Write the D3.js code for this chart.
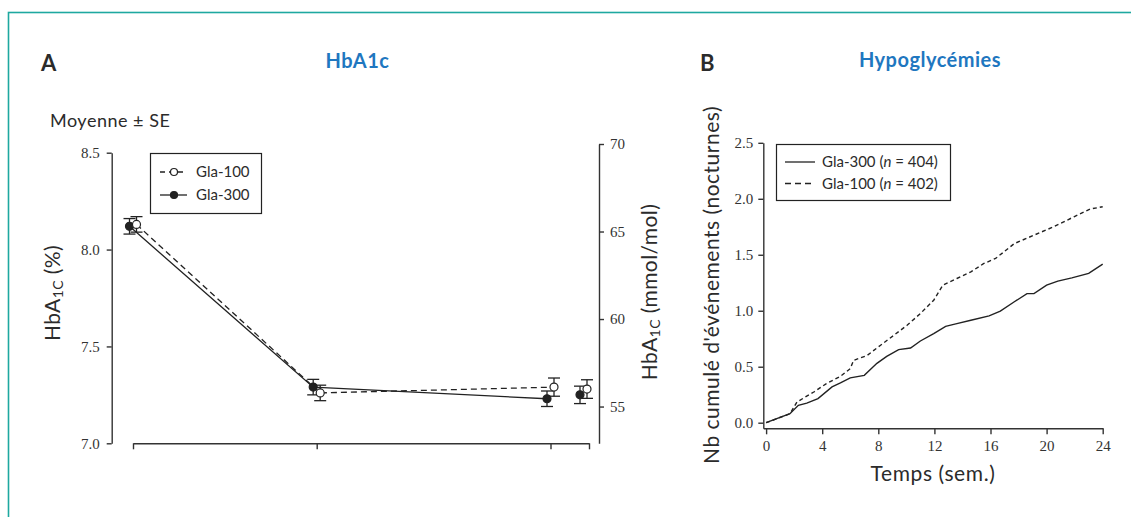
<!DOCTYPE html>
<html>
<head>
<meta charset="utf-8">
<script src="https://cdn.jsdelivr.net/npm/d3@7"></script>
<style>
  body { margin: 0; background: #fff; }
  .lab { font-family: Lato, "Open Sans", sans-serif; fill: #2b2b2b; }
  .tick text { font-family: "Liberation Serif", serif; font-size: 15px; fill: #333; }
  .axis path, .axis line { stroke: #333; stroke-width: 1.4; }
</style>
</head>
<body>
<div id="chart"></div>
<script>
// Panel A data: HbA1c (%) by visit
var visits = ["S0", "S12", "S24", "LOCF"];
var gla300Mean = [8.12, 7.29, 7.23, 7.25];
var gla300Se = [0.04, 0.04, 0.04, 0.045];
var gla100Mean = [8.13, 7.26, 7.29, 7.28];
var gla100Se = [0.04, 0.04, 0.047, 0.048];
var pctTicks = [7.0, 7.5, 8.0, 8.5];
var mmolTicks = [55, 60, 65, 70];

// Panel B data: cumulative nocturnal hypoglycaemia events
var weekTicks = [0, 4, 8, 12, 16, 20, 24];
var eventTicks = [0, 0.5, 1.0, 1.5, 2.0, 2.5];
var gla300Weeks = [0, 1.7, 2.3, 2.9, 3.7, 4.7, 5.3, 6.0, 7.0, 7.9, 8.6, 9.45, 10.3, 11.0, 11.95, 12.8, 13.6, 14.6, 15.9, 16.7, 17.7, 18.6, 19.1, 20.0, 20.8, 21.8, 23.0, 24];
var gla300Events = [0, 0.08, 0.155, 0.175, 0.215, 0.32, 0.355, 0.40, 0.423, 0.53, 0.593, 0.653, 0.667, 0.73, 0.796, 0.861, 0.885, 0.915, 0.954, 0.996, 1.08, 1.153, 1.153, 1.228, 1.264, 1.293, 1.333, 1.416];
var gla100Weeks = [0, 1.7, 2.2, 3.4, 4.3, 5.3, 6.0, 6.24, 7.2, 8.14, 9.1, 10.05, 11.0, 11.95, 12.6, 13.6, 14.6, 15.5, 16.36, 17.7, 19.1, 20.5, 21.95, 23.1, 24];
var gla100Events = [0, 0.08, 0.185, 0.274, 0.349, 0.414, 0.483, 0.557, 0.60, 0.69, 0.78, 0.87, 0.975, 1.094, 1.228, 1.288, 1.347, 1.42, 1.467, 1.60, 1.675, 1.75, 1.839, 1.908, 1.929];

var width = 1131, height = 517;
var blue = "#1f77c0", teal = "#1ea8a0", ink = "#222";

var svg = d3.select("#chart").append("svg")
  .attr("width", width)
  .attr("height", height);

// teal frame
svg.append("rect")
  .attr("x", 8.5).attr("y", 12.5)
  .attr("width", 1200).attr("height", 600)
  .attr("fill", "none").attr("stroke", teal).attr("stroke-width", 1.6);

// ---------- Panel A ----------
var xA = d3.scaleOrdinal()
  .domain(visits.concat(["fin"]))
  .range([133, 316.7, 550.5, 583.5, 589]);
var yPct = d3.scaleLinear().domain([7.0, 8.5]).range([443.3, 152.7]);
var yMmol = d3.scaleLinear().domain([52.9, 70]).range([443.3, 144]);

svg.append("text").attr("class", "lab")
  .attr("x", 41).attr("y", 71)
  .attr("font-size", 22).attr("font-weight", "bold").attr("fill", "#111")
  .text("A");
svg.append("text").attr("class", "lab")
  .attr("x", 357.5).attr("y", 68)
  .attr("text-anchor", "middle")
  .attr("font-size", 20).attr("font-weight", "bold")
  .attr("letter-spacing", 0.5)
  .style("fill", blue)
  .text("HbA1c");
svg.append("text").attr("class", "lab")
  .attr("x", 50).attr("y", 127)
  .attr("font-size", 18).attr("letter-spacing", 0.5)
  .text("Moyenne ± SE");

svg.append("g").attr("class", "axis")
  .attr("transform", "translate(111.7,0)")
  .call(d3.axisLeft(yPct).tickValues(pctTicks).tickFormat(d3.format(".1f"))
    .tickSize(5).tickSizeOuter(0).tickPadding(7));

svg.append("g").attr("class", "axis")
  .attr("transform", "translate(599,0)")
  .call(d3.axisRight(yMmol).tickValues(mmolTicks)
    .tickSize(5).tickSizeOuter(0).tickPadding(6));

svg.append("g").attr("class", "axis")
  .attr("transform", "translate(0,443.3)")
  .call(d3.axisBottom(xA).tickValues(["S0", "S12", "S24", "fin"])
    .tickFormat("").tickSize(6).tickSizeOuter(0));

// y labels with subscript
function hbaLabel(x, y, rest) {
  var t = svg.append("text").attr("class", "lab")
    .attr("transform", "translate(" + x + "," + y + ") rotate(-90)")
    .attr("text-anchor", "middle")
    .attr("font-size", 21).attr("letter-spacing", 0.4);
  t.append("tspan").text("HbA");
  t.append("tspan").attr("font-size", 14).attr("baseline-shift", "-22%").text("1C");
  t.append("tspan").text(rest);
}
hbaLabel(60, 293, " (%)");
hbaLabel(657, 292, " (mmol/mol)");

var seriesA = [
  { name: "Gla-300", mean: gla300Mean, se: gla300Se, dx: -3.5, filled: true, dash: null },
  { name: "Gla-100", mean: gla100Mean, se: gla100Se, dx: 3.5, filled: false, dash: "6,4" }
];

var lineA = d3.line()
  .x(function (d) { return xA(d.visit) + d.dx; })
  .y(function (d) { return yPct(d.v); });

seriesA.forEach(function (s) {
  var pts = visits.map(function (v, i) {
    return { visit: v, v: s.mean[i], se: s.se[i], dx: s.dx };
  });
  svg.append("path")
    .datum(pts.slice(0, 3))
    .attr("d", lineA)
    .attr("fill", "none")
    .attr("stroke", ink)
    .attr("stroke-width", 1.3)
    .attr("stroke-dasharray", s.dash);

  var g = svg.append("g").selectAll("g").data(pts).join("g");
  g.append("line")
    .attr("x1", function (d) { return xA(d.visit) + d.dx; })
    .attr("x2", function (d) { return xA(d.visit) + d.dx; })
    .attr("y1", function (d) { return yPct(d.v - d.se); })
    .attr("y2", function (d) { return yPct(d.v + d.se); })
    .attr("stroke", ink).attr("stroke-width", 1.3);
  [-1, 1].forEach(function (sgn) {
    g.append("line")
      .attr("x1", function (d) { return xA(d.visit) + d.dx - 6; })
      .attr("x2", function (d) { return xA(d.visit) + d.dx + 6; })
      .attr("y1", function (d) { return yPct(d.v + sgn * d.se); })
      .attr("y2", function (d) { return yPct(d.v + sgn * d.se); })
      .attr("stroke", ink).attr("stroke-width", 1.3);
  });
  g.append("circle")
    .attr("cx", function (d) { return xA(d.visit) + d.dx; })
    .attr("cy", function (d) { return yPct(d.v); })
    .attr("r", 4)
    .attr("fill", s.filled ? ink : "#fff")
    .attr("stroke", ink).attr("stroke-width", 1.2);
});

// legend A
svg.append("rect")
  .attr("x", 150.5).attr("y", 153.5).attr("width", 111).attr("height", 60)
  .attr("fill", "#fff").attr("stroke", ink).attr("stroke-width", 1.2);
[{ s: seriesA[1], y: 172 }, { s: seriesA[0], y: 195 }].forEach(function (e) {
  svg.append("line")
    .attr("x1", 160).attr("x2", 187).attr("y1", e.y).attr("y2", e.y)
    .attr("stroke", ink).attr("stroke-width", 1.3)
    .attr("stroke-dasharray", e.s.dash ? "5,4" : null);
  svg.append("circle").attr("cx", 174).attr("cy", e.y).attr("r", 3.5)
    .attr("fill", e.s.filled ? ink : "#fff").attr("stroke", ink).attr("stroke-width", 1.2);
  svg.append("text").attr("class", "lab")
    .attr("x", 196).attr("y", e.y + 5).attr("font-size", 15)
    .text(e.s.name);
});

// ---------- Panel B ----------
var xB = d3.scaleLinear().domain([-0.2, 24]).range([763.3, 1102.7]);
var yB = d3.scaleLinear().domain([-0.05, 2.5]).range([428.3, 142.8]);

svg.append("text").attr("class", "lab")
  .attr("x", 700).attr("y", 71)
  .attr("font-size", 22).attr("font-weight", "bold").attr("fill", "#111")
  .text("B");
svg.append("text").attr("class", "lab")
  .attr("x", 930).attr("y", 67)
  .attr("text-anchor", "middle")
  .attr("font-size", 20).attr("font-weight", "bold")
  .attr("letter-spacing", 0.5)
  .style("fill", blue)
  .text("Hypoglycémies");

svg.append("g").attr("class", "axis")
  .attr("transform", "translate(763.3,0)")
  .call(d3.axisLeft(yB).tickValues(eventTicks).tickFormat(d3.format(".1f"))
    .tickSize(5).tickSizeOuter(0).tickPadding(5));

svg.append("g").attr("class", "axis")
  .attr("transform", "translate(0,428.3)")
  .call(d3.axisBottom(xB).tickValues(weekTicks)
    .tickSize(6).tickSizeOuter(0).tickPadding(6));

svg.append("text").attr("class", "lab")
  .attr("x", 933).attr("y", 481)
  .attr("text-anchor", "middle").attr("font-size", 21)
  .attr("letter-spacing", 0.6)
  .text("Temps (sem.)");
svg.append("text").attr("class", "lab")
  .attr("transform", "translate(719,285) rotate(-90)")
  .attr("text-anchor", "middle").attr("font-size", 21)
  .attr("letter-spacing", 0.5)
  .text("Nb cumulé d'événements (nocturnes)");

var lineB = d3.line()
  .x(function (d) { return xB(d[0]); })
  .y(function (d) { return yB(d[1]); });

var seriesB = [
  { name: "Gla-300", n: 404, w: gla300Weeks, e: gla300Events, dash: null },
  { name: "Gla-100", n: 402, w: gla100Weeks, e: gla100Events, dash: "4,3" }
];

seriesB.forEach(function (s) {
  svg.append("path")
    .datum(d3.zip(s.w, s.e))
    .attr("d", lineB)
    .attr("fill", "none")
    .attr("stroke", ink)
    .attr("stroke-width", 1.4)
    .attr("stroke-dasharray", s.dash);
});

// legend B
svg.append("rect")
  .attr("x", 776.5).attr("y", 144.5).attr("width", 174).attr("height", 56)
  .attr("fill", "#fff").attr("stroke", ink).attr("stroke-width", 1.2);
seriesB.forEach(function (s, i) {
  var y = 162 + i * 21.5;
  svg.append("line")
    .attr("x1", 785).attr("x2", 815).attr("y1", y).attr("y2", y)
    .attr("stroke", ink).attr("stroke-width", 1.3)
    .attr("stroke-dasharray", s.dash ? "6,4" : null);
  var t = svg.append("text").attr("class", "lab")
    .attr("x", 822).attr("y", y + 5).attr("font-size", 15);
  t.append("tspan").text(s.name + " (");
  t.append("tspan").attr("font-style", "italic").text("n");
  t.append("tspan").text(" = " + s.n + ")");
});
</script>
</body>
</html>
